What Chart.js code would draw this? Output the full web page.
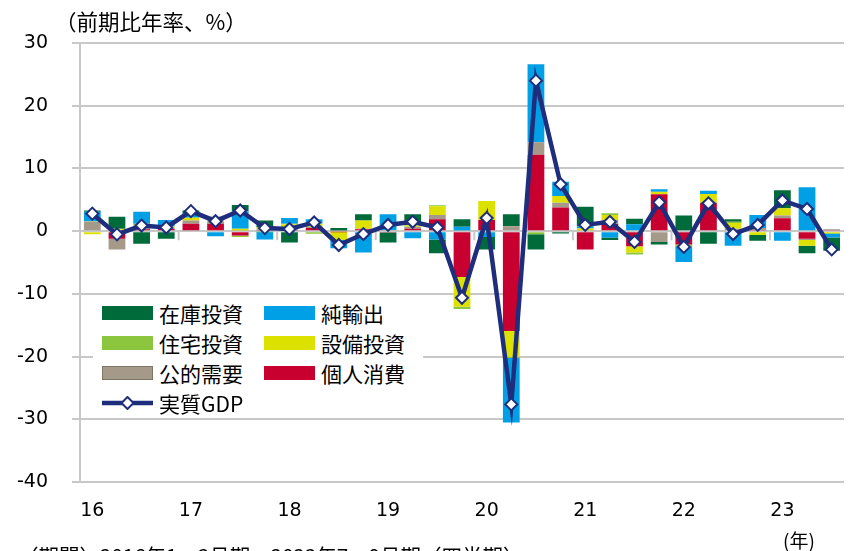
<!DOCTYPE html>
<html><head><meta charset="utf-8">
<script src="https://cdn.jsdelivr.net/npm/chart.js@4"></script>
<style>
html,body{margin:0;padding:0;background:#fff;overflow:hidden}
#wrap{position:relative;width:852px;height:551px;overflow:hidden}
canvas{position:absolute;left:0;top:0}
.t{position:absolute;font-family:"Noto Sans CJK JP";color:#000;white-space:nowrap;line-height:1}
#legend{position:absolute;left:93px;top:296px;width:330px;height:120px;background:#fff}
.li{position:absolute;height:30px;display:flex;align-items:center;font-family:"Noto Sans CJK JP";font-size:21px;color:#000;white-space:nowrap}
.sw{width:51px;height:14px;margin-right:6px;box-sizing:border-box}
.ln{width:51px;height:14px;margin-right:6px;position:relative}
</style></head>
<body><div id="wrap">
<canvas id="c" width="852" height="551"></canvas>
<div class="t" style="left:55px;top:10px;font-size:21.5px">（前期比年率、%）</div>
<div class="t" style="left:783px;top:530px;font-size:19px">(年)</div>
<div class="t" style="left:18px;top:545px;font-size:20.5px">（期間）2016年1～3月期～2023年7～9月期（四半期）</div>
<div id="legend"></div>
</div>
<script>
// ---- data ----
const quarters = ['16Q1','16Q2','16Q3','16Q4','17Q1','17Q2','17Q3','17Q4','18Q1','18Q2','18Q3','18Q4',
  '19Q1','19Q2','19Q3','19Q4','20Q1','20Q2','20Q3','20Q4','21Q1','21Q2','21Q3','21Q4',
  '22Q1','22Q2','22Q3','22Q4','23Q1','23Q2','23Q3'];
const consumption = [0.0,-1.2,0.3,0.4,1.2,1.2,-0.7,0.2,0.2,0.5,-0.1,0.3,-0.2,0.4,1.9,-7.3,1.8,-15.9,12.2,3.8,-2.9,1.15,-2.4,5.9,-2.1,4.55,0.0,0.2,2.05,-1.2,0.2];
const publicDemand = [1.5,-1.7,0.3,0.1,0.5,0.3,0.1,0.1,0.2,0.2,0.1,0.1,0.2,0.3,0.7,0.1,0.0,0.8,2.0,0.75,0.1,0.65,0.0,-1.7,0.0,0.0,0.4,0.3,0.45,-0.2,0.1];
const capex = [-0.5,0.3,0.4,0.2,0.4,0.5,0.3,0.3,0.7,0.5,-1.3,1.3,0.0,0.2,1.4,-4.75,3.0,-4.1,0.0,1.05,0.3,0.8,-1.0,0.35,0.0,1.4,0.9,-0.6,1.15,-0.9,-0.3];
const housing = [0.1,0.1,0.2,0.1,0.1,0.2,-0.2,-0.1,0.1,-0.4,0.0,0.0,0.0,0.1,0.15,-0.35,0.0,-0.2,-0.5,0.0,0.1,0.25,-0.3,0.05,-0.3,0.0,0.2,0.0,0.0,0.0,-0.1];
const netExports = [1.5,0.0,1.9,1.0,0.7,-0.8,2.8,-1.2,0.9,0.7,-1.3,-3.4,2.5,-1.1,-1.3,0.6,-0.9,-10.3,12.4,2.3,0.3,-1.0,1.1,0.4,-2.5,0.5,-2.3,2.1,-1.5,7.0,-0.6];
const inventory = [0.2,1.9,-2.0,-1.2,0.4,0.1,1.0,1.1,-1.8,0.0,0.4,1.0,-1.6,1.7,-2.2,1.2,-2.0,1.9,-2.4,-0.35,3.1,-0.4,0.9,-0.4,2.5,-2.0,0.4,-0.9,2.9,-1.2,-2.1];
const realGDP = [2.8,-0.5,0.9,0.6,3.2,1.6,3.3,0.5,0.35,1.4,-2.2,-0.45,1.0,1.5,0.6,-10.6,2.1,-27.6,24.0,7.5,1.0,1.5,-1.7,4.6,-2.5,4.45,-0.45,1.0,4.9,3.55,-2.9];
const yMin = -40, yMax = 30, yStep = 10;

const NAVY = '#1f2d7d';
const barSeries = [ // stacking order from zero outward
  {label:'個人消費', data:consumption, color:'#c8002f'},
  {label:'公的需要', data:publicDemand, color:'#a59a8a'},
  {label:'設備投資', data:capex, color:'#dce100'},
  {label:'住宅投資', data:housing, color:'#8cc63e'},
  {label:'純輸出', data:netExports, color:'#00a0e6'},
  {label:'在庫投資', data:inventory, color:'#006b3a'}
];
const legendOrder = ['在庫投資','純輸出','住宅投資','設備投資','公的需要','個人消費','実質GDP'];

const datasets = [{
  type:'line', label:'実質GDP', data:realGDP, stack:'gdp', order:0,
  borderColor:NAVY, borderWidth:4.5, tension:0,
  pointStyle:'rectRot', pointRadius:6, pointBackgroundColor:'#fff',
  pointBorderColor:NAVY, pointBorderWidth:2
}];
barSeries.forEach((s,i)=>datasets.push({
  type:'bar', label:s.label, data:s.data, stack:'comp', order:i+1,
  backgroundColor:s.color, borderWidth:0,
  categoryPercentage:1, barPercentage:0.68
}));

const yearTicks = {
  id:'yearTicks',
  beforeDatasetsDraw(chart){
    const xs = chart.scales.x, ys = chart.scales.y, c = chart.ctx;
    const y0 = ys.getPixelForValue(0);
    c.save(); c.strokeStyle='#c8c8c8'; c.lineWidth=2;
    quarters.forEach((q,i)=>{
      if(i>0 && q.endsWith('Q1')){
        const x = (xs.getPixelForValue(i-1)+xs.getPixelForValue(i))/2;
        c.beginPath(); c.moveTo(x,y0); c.lineTo(x,y0+9); c.stroke();
      }
    });
    c.restore();
  }
};

new Chart(document.getElementById('c'), {
  type:'bar',
  data:{labels:quarters, datasets},
  plugins:[yearTicks],
  options:{
    responsive:false, animation:false, devicePixelRatio:1,
    layout:{padding:{left:17, top:43, right:0, bottom:12}},
    plugins:{legend:{display:false}, tooltip:{enabled:false}},
    scales:{
      x:{stacked:true, offset:true,
        grid:{display:false, drawTicks:false}, border:{display:false},
        afterFit(s){ s.paddingLeft = 0; s.paddingRight = 0; },
        ticks:{autoSkip:false, maxRotation:0, padding:17, color:'#000',
          font:{family:'DejaVu Sans', size:19},
          callback:(v,i)=> quarters[i].endsWith('Q1') ? quarters[i].slice(0,2) : ''}
      },
      y:{stacked:true, min:yMin, max:yMax,
        afterFit(s){ s.width = 63; },
        ticks:{stepSize:yStep, padding:24, color:'#000', font:{family:'DejaVu Sans', size:19}},
        grid:{color:'#c8c8c8', lineWidth:2, tickLength:8, drawTicks:true},
        border:{color:'#c8c8c8', width:2}
      }
    }
  }
});

// legend (HTML overlay)
const lg = document.getElementById('legend');
legendOrder.forEach((name,i)=>{
  const col = i%2, row = Math.floor(i/2);
  const d = document.createElement('div');
  d.className='li';
  d.style.left = (col? 171 : 9) + 'px';
  d.style.top = (2 + row*30) + 'px';
  if(name==='実質GDP'){
    d.innerHTML = '<div class="ln"><svg width="51" height="14" style="position:absolute;left:0;top:0"><line x1="0" y1="7" x2="51" y2="7" stroke="'+NAVY+'" stroke-width="4.5"/><polygon points="25.5,1 31.5,7 25.5,13 19.5,7" fill="#fff" stroke="'+NAVY+'" stroke-width="2"/></svg></div><span>'+name+'</span>';
  } else {
    const s = barSeries.find(b=>b.label===name);
    d.innerHTML = '<div class="sw" style="background:'+s.color+(name==='公的需要'?';border:1px solid #7d7467':'')+'"></div><span>'+name+'</span>';
  }
  lg.appendChild(d);
});
</script>
</body></html>
